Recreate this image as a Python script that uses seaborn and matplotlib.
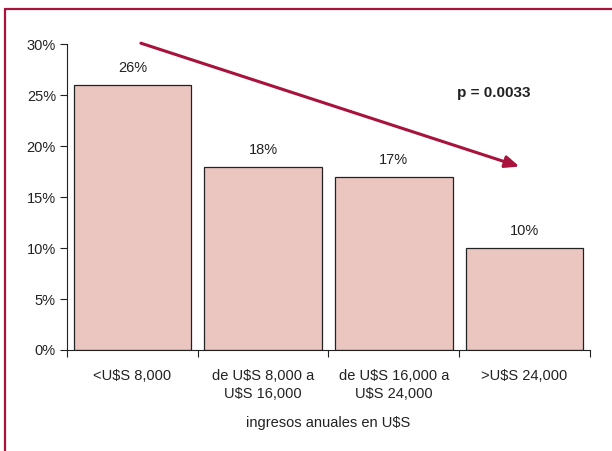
import matplotlib
matplotlib.use("Agg")
import matplotlib.pyplot as plt
from matplotlib.lines import Line2D
from matplotlib.ticker import FixedLocator, PercentFormatter
import seaborn as sns
import pandas as pd

categories = ["<U$S 8,000", "de U$S 8,000 a\nU$S 16,000",
              "de U$S 16,000 a\nU$S 24,000", ">U$S 24,000"]
values = [26, 18, 17, 10]
value_labels = ["26%", "18%", "17%", "10%"]
p_text = "p = 0.0033"
x_title = "ingresos anuales en U$S"

sns.set_theme(style="white")
plt.rcParams["font.family"] = ["Liberation Sans", "DejaVu Sans"]

RED = "#A8123C"
FILL = "#EBC6C0"
INK = "#222222"
FS = 10.5

fig = plt.figure(figsize=(6.12, 4.51), dpi=100)
ax = fig.add_axes([0.1095, 0.224, 0.8545, 0.678])

df = pd.DataFrame({"cat": categories, "val": values})
sns.barplot(data=df, x="cat", y="val", color=FILL, width=0.9,
            edgecolor=INK, linewidth=0.9, saturation=1, ax=ax)

ax.set_xlim(-0.5, 3.5)
ax.set_ylim(0, 30)
ax.yaxis.set_major_locator(FixedLocator([0, 5, 10, 15, 20, 25, 30]))
ax.yaxis.set_major_formatter(PercentFormatter(decimals=0))

# category labels centred, ticks on the boundaries
ax.xaxis.set_major_locator(FixedLocator([-0.5, 0.5, 1.5, 2.5, 3.5]))
ax.set_xticklabels([])
ax.xaxis.set_minor_locator(FixedLocator([0, 1, 2, 3]))
ax.set_xticklabels(categories, minor=True)
ax.tick_params(axis="x", which="major", direction="out", length=5,
               width=0.8, color=INK, bottom=True)
ax.tick_params(axis="x", which="minor", length=0, pad=13.5,
               labelsize=FS, labelcolor=INK)
ax.tick_params(axis="y", direction="out", length=5, width=0.8,
               color=INK, left=True, labelsize=FS,
               labelcolor=INK, pad=3)
for lbl in ax.get_xticklabels(minor=True):
    lbl.set_horizontalalignment("center")
    lbl.set_multialignment("center")
    lbl.set_linespacing(1.35)

for s in ["top", "right"]:
    ax.spines[s].set_visible(False)
for s in ["left", "bottom"]:
    ax.spines[s].set_color(INK)
    ax.spines[s].set_linewidth(0.8)

ax.set_xlabel(x_title, fontsize=FS, color=INK, labelpad=11)
ax.set_ylabel("")

for i, (v, t) in enumerate(zip(values, value_labels)):
    ax.annotate(t, (i, v), xytext=(0, 7), textcoords="offset points",
                ha="center", va="bottom", fontsize=FS, color=INK)

# downward trend arrow
ax.annotate("", xy=(2.96, 18.0), xytext=(0.065, 30.1),
            arrowprops=dict(arrowstyle="-|>,head_length=0.7,head_width=0.3",
                            color=RED, lw=2.2, shrinkA=0, shrinkB=0),
            annotation_clip=False)
ax.text(2.485, 25.2, p_text, fontsize=11, fontweight="bold",
        color=INK, ha="left", va="center")

# frame lines along the top and left of the figure
fig.add_artist(Line2D([5 / 612, 1.0], [1 - 9 / 451, 1 - 9 / 451],
                      transform=fig.transFigure, color=RED, lw=1.6))
fig.add_artist(Line2D([5 / 612, 5 / 612], [0, 1 - 9 / 451],
                      transform=fig.transFigure, color=RED, lw=1.6))

fig.savefig("out.png", dpi=100, facecolor="white")
